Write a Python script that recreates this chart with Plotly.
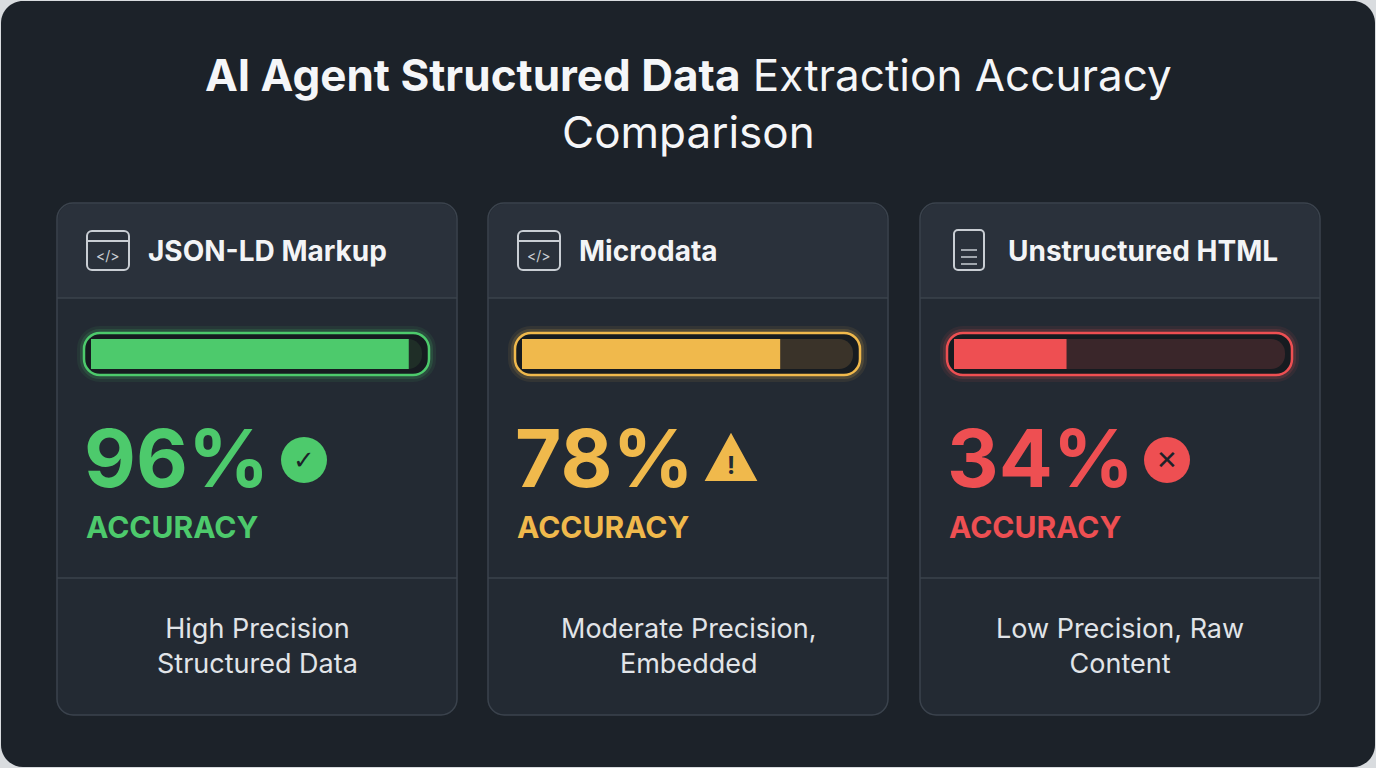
import plotly.graph_objects as go

categories = ["JSON-LD Markup", "Microdata", "Unstructured HTML"]
accuracy = [96, 78, 34]
descriptions = ["High Precision<br>Structured Data", "Moderate Precision,<br>Embedded", "Low Precision, Raw<br>Content"]
colors = ["#4dca6c", "#f0b94c", "#ee4f52"]
tracks = ["#1f2e27", "#3a3329", "#3a262a"]
icons = ["code", "code", "doc"]

W, H = 1376, 768
def px(x): return x / W
def py(y): return 1 - y / H

def rrect(x0, y0, x1, y1, r):
    k = 0.45
    return (f"M{px(x0+r)},{py(y0)} L{px(x1-r)},{py(y0)} "
            f"C{px(x1-r*k)},{py(y0)} {px(x1)},{py(y0+r*k)} {px(x1)},{py(y0+r)} "
            f"L{px(x1)},{py(y1-r)} "
            f"C{px(x1)},{py(y1-r*k)} {px(x1-r*k)},{py(y1)} {px(x1-r)},{py(y1)} "
            f"L{px(x0+r)},{py(y1)} "
            f"C{px(x0+r*k)},{py(y1)} {px(x0)},{py(y1-r*k)} {px(x0)},{py(y1-r)} "
            f"L{px(x0)},{py(y0+r)} "
            f"C{px(x0)},{py(y0+r*k)} {px(x0+r*k)},{py(y0)} {px(x0+r)},{py(y0)} Z")

fig = go.Figure()
shapes, anns = [], []
FONT = "Inter"

def ann(**kw):
    kw.setdefault("xref", "paper"); kw.setdefault("yref", "paper"); kw.setdefault("showarrow", False)
    kw.setdefault("xanchor", "center"); kw.setdefault("yanchor", "middle")
    anns.append(kw)

shapes.append(dict(type="path", xref="paper", yref="paper", path=rrect(1, 1, 1375, 767, 22),
                   fillcolor="#1c2229", line=dict(width=0), layer="below"))

for i, (cat, acc, desc, col, trk, ic) in enumerate(zip(categories, accuracy, descriptions, colors, tracks, icons)):
    off = [0, 431, 863][i]
    cx0, cx1 = 57 + off, 457 + off
    shapes.append(dict(type="path", xref="paper", yref="paper", path=rrect(cx0, 203, cx1, 715, 16),
                       fillcolor="#232a33", line=dict(color="#3b434d", width=1.5), layer="below"))
    shapes.append(dict(type="path", xref="paper", yref="paper", path=rrect(cx0 + 1, 204, cx1 - 1, 298, 15),
                       fillcolor="#2a313b", line=dict(width=0), layer="below"))
    shapes.append(dict(type="rect", xref="paper", yref="paper", x0=px(cx0 + 1), x1=px(cx1 - 1),
                       y0=py(298), y1=py(270), fillcolor="#2a313b", line=dict(width=0), layer="below"))
    for yy in (298, 578):
        shapes.append(dict(type="line", xref="paper", yref="paper", x0=px(cx0), x1=px(cx1),
                           y0=py(yy), y1=py(yy), line=dict(color="#3b434d", width=1.5)))
    ix = cx0 + 30
    if ic == "code":
        shapes.append(dict(type="path", xref="paper", yref="paper", path=rrect(ix, 231, ix + 42, 270, 5),
                           fillcolor="rgba(0,0,0,0)", line=dict(color="#c9ced4", width=2)))
        shapes.append(dict(type="line", xref="paper", yref="paper", x0=px(ix), x1=px(ix + 42),
                           y0=py(241), y1=py(241), line=dict(color="#c9ced4", width=2)))
        ann(x=px(ix + 21), y=py(256), text="&lt;/&gt;", font=dict(family=FONT, size=14, color="#c9ced4"))
    else:
        shapes.append(dict(type="path", xref="paper", yref="paper", path=rrect(ix + 4, 230, ix + 34, 270, 4),
                           fillcolor="rgba(0,0,0,0)", line=dict(color="#c9ced4", width=2)))
        for yy in (250, 257, 264):
            shapes.append(dict(type="line", xref="paper", yref="paper", x0=px(ix + 11), x1=px(ix + 27),
                               y0=py(yy), y1=py(yy), line=dict(color="#c9ced4", width=1.5)))
    ann(x=px(cx0 + 89 if ic == "code" else cx0 + 86), y=py(251), xanchor="left", text=f"<b>{cat}</b>",
        font=dict(family=FONT, size=28, color="#f3f4f6"))
    for w, a in ((14, 0.08), (8, 0.15)):
        shapes.append(dict(type="path", xref="paper", yref="paper", path=rrect(cx0 + 27, 333, cx0 + 372, 375, 16),
                           fillcolor="rgba(0,0,0,0)", line=dict(color=col, width=w), opacity=a, layer="below"))
    shapes.append(dict(type="path", xref="paper", yref="paper", path=rrect(cx0 + 27, 333, cx0 + 372, 375, 16),
                       fillcolor="#161b20", line=dict(color=col, width=2.5), layer="below"))
    xa = "x" if i == 0 else f"x{i+1}"
    ya = "y" if i == 0 else f"y{i+1}"
    fig.add_trace(go.Bar(x=[100], y=[0], orientation="h", marker=dict(color=trk, line=dict(width=0)),
                         width=1, xaxis=xa, yaxis=ya, hoverinfo="skip", showlegend=False))
    fig.add_trace(go.Bar(x=[acc], y=[0], orientation="h", marker=dict(color=col, line=dict(width=0)),
                         width=1, xaxis=xa, yaxis=ya, hoverinfo="skip", showlegend=False))
    fig.layout[("xaxis" if i == 0 else f"xaxis{i+1}")] = dict(domain=[px(cx0 + 34), px(cx0 + 365)], range=[0, 100],
                                                               visible=False, fixedrange=True, anchor=ya)
    fig.layout[("yaxis" if i == 0 else f"yaxis{i+1}")] = dict(domain=[py(369), py(339)], range=[-0.5, 0.5],
                                                               visible=False, fixedrange=True, anchor=xa)
    ann(x=px(cx0 + 25), y=py(457), xanchor="left", text=f"<b>{acc}%</b>", font=dict(family=FONT, size=80, color=col))
    ann(x=px(cx0 + 27), y=py(527), xanchor="left", text="<b>ACCURACY</b>", font=dict(family=FONT, size=30, color=col))
    sx, sy = [304, 731, 1167][i], 460
    if i == 1:
        shapes.append(dict(type="path", xref="paper", yref="paper",
                           path=f"M{px(sx)},{py(sy-23)} L{px(sx+23)},{py(sy+19)} L{px(sx-23)},{py(sy+19)} Z",
                           fillcolor=col, line=dict(color=col, width=4)))
        ann(x=px(sx), y=py(sy + 5), text="<b>!</b>", font=dict(family=FONT, size=24, color="#232a33"))
    else:
        shapes.append(dict(type="circle", xref="paper", yref="paper", x0=px(sx - 23), x1=px(sx + 23),
                           y0=py(sy + 23), y1=py(sy - 23), fillcolor=col, line=dict(width=0)))
        ann(x=px(sx), y=py(sy), text="<b>✓</b>" if i == 0 else "<b>✕</b>",
            font=dict(family="DejaVu Sans", size=26, color="#1c2229"))
    ann(x=px((cx0 + cx1) / 2), y=py(646), text=desc, font=dict(family=FONT, size=27, color="#e1e4e8"))

ann(x=0.5, y=py(104), text="<b>AI Agent Structured Data</b> Extraction Accuracy<br>Comparison",
    font=dict(family=FONT, size=44, color="#f5f6f8"))

fig.update_layout(width=W, height=H, margin=dict(l=0, r=0, t=0, b=0),
                  paper_bgcolor="#d9dcdf", plot_bgcolor="rgba(0,0,0,0)",
                  shapes=shapes, annotations=anns, barmode="overlay", barcornerradius=14,
                  showlegend=False)
fig.write_html("out.html", config={"displayModeBar": False})
with open("out.html") as f:
    s = f.read()
s = s.replace("<body>", '<body style="margin:0;overflow:hidden">', 1)
with open("out.html", "w") as f:
    f.write(s)
